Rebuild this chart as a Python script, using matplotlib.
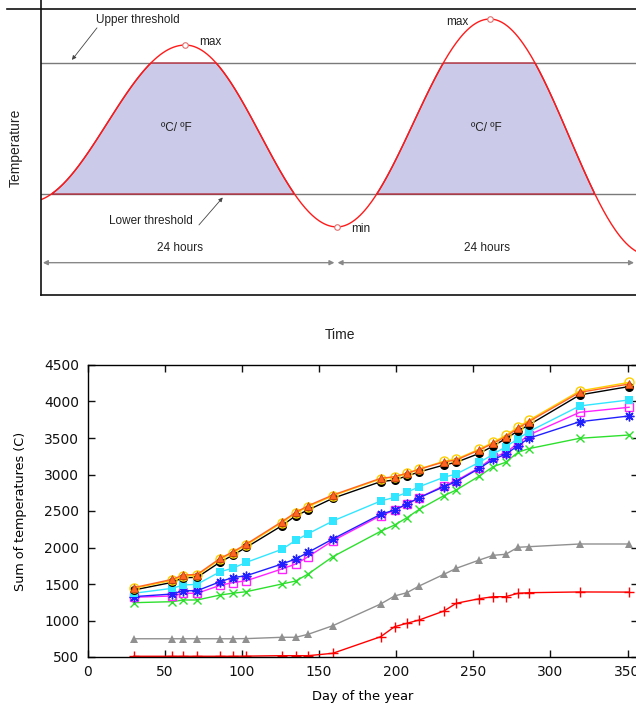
import numpy as np
import matplotlib
matplotlib.use('Agg')
import matplotlib.pyplot as plt
from matplotlib.lines import Line2D

# ---- top schematic: daily temperature curve between thresholds ----
extreme_hours = [-1.0, 11.7, 24.0, 36.4, 49.3]
extreme_temps = [32.5, 87.4, 23.8, 96.5, 14.0]
upper_threshold = 81.1
lower_threshold = 35.3
max_points = [(11.7, 87.4), (36.4, 96.5)]
min_points = [(24.0, 23.8)]

# ---- bottom chart: cumulated temperatures ----
days = [30, 55, 62, 71, 86, 94, 103, 126, 135, 143, 159, 190, 199, 207, 215,
        231, 239, 254, 263, 271, 279, 286, 319, 351]
s_orange = [1450, 1564, 1623, 1630, 1852, 1938, 2048, 2354, 2482, 2573, 2719, 2948,
            2970, 3017, 3072, 3172, 3199, 3336, 3428, 3518, 3633, 3724, 4125, 4240]
s_yellow = [1440, 1550, 1610, 1618, 1838, 1925, 2035, 2340, 2470, 2560, 2708, 2940,
            2965, 3015, 3075, 3182, 3210, 3348, 3442, 3535, 3650, 3742, 4145, 4262]
s_black = [1418, 1523, 1587, 1590, 1801, 1893, 2003, 2299, 2436, 2514, 2674, 2902,
           2925, 2980, 3035, 3130, 3167, 3290, 3391, 3491, 3596, 3678, 4090, 4205]
s_cyan = [1373, 1441, 1486, 1496, 1669, 1715, 1797, 1975, 2099, 2189, 2363, 2637,
          2687, 2756, 2833, 2962, 3007, 3167, 3277, 3381, 3487, 3587, 3939, 4021]
s_magenta = [1318, 1336, 1373, 1373, 1482, 1518, 1545, 1706, 1774, 1874, 2093, 2436,
             2510, 2592, 2683, 2847, 2916, 3094, 3236, 3299, 3428, 3541, 3852, 3921]
s_blue = [1327, 1363, 1408, 1408, 1532, 1587, 1614, 1774, 1843, 1934, 2117, 2455,
          2514, 2596, 2683, 2833, 2902, 3085, 3208, 3277, 3395, 3496, 3723, 3802]
s_green = [1244, 1258, 1281, 1281, 1349, 1373, 1395, 1500, 1541, 1637, 1874, 2222,
           2308, 2408, 2523, 2710, 2788, 2980, 3108, 3167, 3304, 3354, 3496, 3541]
s_gray = [750, 750, 750, 750, 750, 750, 752, 770, 770, 811, 929, 1226,
          1336, 1381, 1473, 1633, 1715, 1829, 1893, 1907, 2003, 2011, 2048, 2048]
s_red = [510, 510, 510, 510, 510, 510, 512, 518, 518, 518, 551, 778,
         915, 962, 1007, 1130, 1236, 1299, 1326, 1326, 1373, 1381, 1391, 1389]

W, H = 636, 706
fig = plt.figure(figsize=(W / 100, H / 100), dpi=100)


def fx(px):
    return px / W


def fy(py):
    return 1 - py / H


# frame lines of the schematic
for xs, ys in [((7, W), (9, 9)), ((41, 41), (0, 295)), ((41, W), (295, 295))]:
    fig.add_artist(Line2D([fx(x) for x in xs], [fy(y) for y in ys],
                          color='#111111', lw=1.2))

ax1 = fig.add_axes([fx(41), fy(295), fx(640) - fx(41), fy(9) - fy(295)])
ax1.set_xlim(0, (640 - 41) / 12.33)
ax1.set_ylim(0, 100)
ax1.axis('off')

# smooth curve between the read extremes (half cosine per segment)
t_all, v_all = [], []
for i in range(len(extreme_hours) - 1):
    t0, t1 = extreme_hours[i], extreme_hours[i + 1]
    v0, v1 = extreme_temps[i], extreme_temps[i + 1]
    s = np.linspace(0, 1, 120)
    t_all.append(t0 + (t1 - t0) * s)
    v_all.append(v0 + (v1 - v0) * (1 - np.cos(np.pi * s)) / 2)
t = np.concatenate(t_all)
v = np.concatenate(v_all)

ax1.axhline(upper_threshold, color='#7a7a7a', lw=1)
ax1.axhline(lower_threshold, color='#7a7a7a', lw=1)
ax1.fill_between(t, lower_threshold, np.clip(v, lower_threshold, upper_threshold),
                 where=v >= lower_threshold, facecolor='#cbcbe9',
                 edgecolor='#b02838', lw=1.0, zorder=2)
ax1.plot(t, v, color='#ff1a1a', lw=1.0, zorder=3)
for px_, py_ in max_points + min_points:
    ax1.plot(px_, py_, 'o', ms=4, mfc='white', mec='#e07070', mew=0.8, zorder=4)

tc = '#222222'
fs = 8.5
ax1.text(4.46, 96.2, 'Upper threshold', ha='left', va='center', fontsize=fs,
         color=tc, family='Liberation Sans')
ax1.annotate('', xy=(2.51, 82.2), xytext=(4.54, 93.4),
             arrowprops=dict(arrowstyle='-|>', color='#444444', lw=0.6,
                             mutation_scale=6, shrinkA=0, shrinkB=0))
ax1.text(12.8, 88.6, 'max', ha='left', va='center', fontsize=fs, color=tc,
         family='Liberation Sans')
ax1.text(34.63, 95.4, 'max', ha='right', va='center', fontsize=fs, color=tc,
         family='Liberation Sans')
ax1.text(25.14, 23.2, 'min', ha='left', va='center', fontsize=fs, color=tc,
         family='Liberation Sans')
ax1.text(12.33, 25.9, 'Lower threshold', ha='right', va='center', fontsize=fs,
         color=tc, family='Liberation Sans')
ax1.annotate('', xy=(14.74, 34.1), xytext=(12.81, 24.5),
             arrowprops=dict(arrowstyle='-|>', color='#444444', lw=0.6,
                             mutation_scale=6, shrinkA=0, shrinkB=0))
for xc in (10.95, 36.15):
    ax1.text(xc, 58.5, '\u00baC/ \u00baF', ha='center', va='center', fontsize=fs,
             color=tc, family='Liberation Sans')
for xc in (11.27, 36.15):
    ax1.text(xc, 16.3, '24 hours', ha='center', va='center', fontsize=fs,
             color=tc, family='Liberation Sans')
for a, b in [(0.15, 23.8), (24.05, 48.1)]:
    ax1.annotate('', xy=(b, 11.3), xytext=(a, 11.3),
                 arrowprops=dict(arrowstyle='<|-|>', color='#888888', lw=1.0,
                                 mutation_scale=7, shrinkA=0, shrinkB=0))

fig.text(fx(16), fy(148), 'Temperature', rotation=90, ha='center', va='center',
         fontsize=10, color=tc, family='Liberation Sans')
fig.text(fx(340), fy(335), 'Time', ha='center', va='center', fontsize=10,
         color=tc, family='Liberation Sans')

# ---- bottom chart ----
ax2 = fig.add_axes([fx(87.5), fy(657), fx(637.5) - fx(87.5), fy(365) - fy(657)])
ax2.plot(days, s_red, color='#ff0000', lw=1, marker='+', ms=7, mew=1)
ax2.plot(days, s_gray, color='#909090', lw=1, marker='^', ms=6, mew=0)
ax2.plot(days, s_green, color='#2ee02e', lw=1, marker='x', ms=6, mew=1)
ax2.plot(days, s_magenta, color='#ff22ff', lw=1, marker='s', ms=5.5, mfc='none', mew=1)
ax2.plot(days, s_blue, color='#2020ff', lw=1, marker=(8, 2, 0), ms=7, mew=1)
ax2.plot(days, s_cyan, color='#33e6ff', lw=1, marker='s', ms=6, mew=0)
ax2.plot(days, s_black, color='#000000', lw=1, marker='o', ms=6.5, mew=0)
ax2.plot(days, s_yellow, color='#ffd000', lw=1, marker='o', ms=6.5, mfc='none', mew=1)
ax2.plot(days, s_orange, color='#ff6422', lw=1, marker='^', ms=6, mec='#c84410', mew=0.6)

ax2.set_xlim(0, (637.5 - 87.5) / 1.543)
ax2.set_ylim(500, 4500)
ax2.set_xticks(range(0, 351, 50))
ax2.set_yticks(range(500, 4501, 500))
ax2.tick_params(direction='in', length=5, width=1, top=True, right=True,
                labelsize=10, pad=6, colors='#111111')
for sp in ax2.spines.values():
    sp.set_linewidth(1)
ax2.set_xlabel('Day of the year', fontsize=9.4, labelpad=8)
ax2.set_ylabel('Sum of temperatures (C)', fontsize=9.2, labelpad=12)

fig.savefig('out.png', dpi=100)
